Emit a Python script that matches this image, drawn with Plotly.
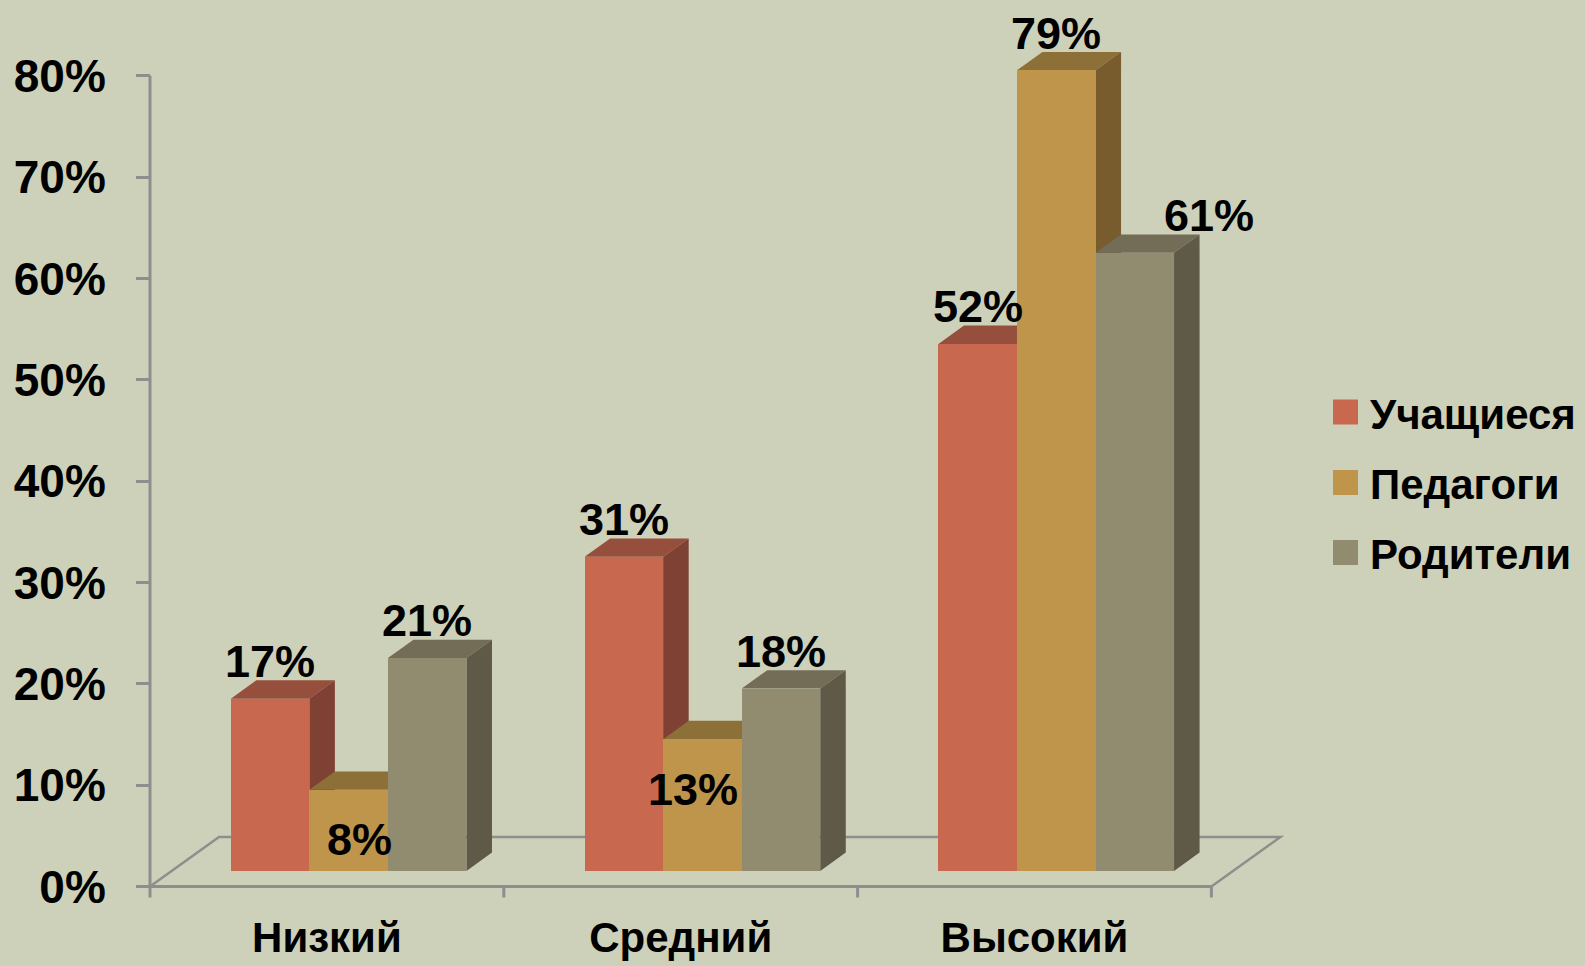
import plotly.graph_objects as go

# ---------------- data ----------------
categories = ["Низкий", "Средний", "Высокий"]
series_names = ["Учащиеся", "Педагоги", "Родители"]
students = [17, 31, 52]
teachers = [8, 13, 79]
parents = [21, 18, 61]
y_ticks = [0, 10, 20, 30, 40, 50, 60, 70, 80]

series_values = [students, teachers, parents]

# ---------------- styling ----------------
BG = "#CDD1BA"
front_colors = ["#C8694F", "#BF954B", "#918C6F"]
top_colors = ["#964F3C", "#8D6F38", "#736D58"]
side_colors = ["#7F4133", "#785C2E", "#5F5947"]
AXIS_GRAY = "#8E8E8E"
FONT = "Liberation Sans"

W, H = 1585, 966
M_L, M_R, M_T, M_B = 100, 295, 20, 61
PX_PER_CAT = 353.8            # pixels per category unit
PX_PER_PCT = 10.134           # pixels per percent
ZERO_PX = 886.5               # pixel row of 0 %
plot_w = W - M_L - M_R
plot_h = H - M_T - M_B
x_range = [-0.5 - (150 - M_L) / PX_PER_CAT, -0.5 + (W - M_R - 150) / PX_PER_CAT]
y_range = [(ZERO_PX - (H - M_B)) / PX_PER_PCT, (ZERO_PX - M_T) / PX_PER_PCT]

# pseudo-3D geometry (fractions of the floor depth)
floor_dx = 69.0 / PX_PER_CAT
floor_dy = 49.5 / PX_PER_PCT
lift_frac = 0.315
depth_frac = 0.37
bar_w = 0.222
n_cat = len(categories)

lift_x = lift_frac * floor_dx
lift_y = lift_frac * floor_dy
ddx = depth_frac * floor_dx
ddy = depth_frac * floor_dy

label_nudge_px = {(0, 1): 11, (1, 1): -9, (2, 2): 74}

fig = go.Figure()
shapes = []
line_style = dict(color=AXIS_GRAY, width=3)

# floor
x_lo, x_hi = -0.5, n_cat - 0.5
shapes.append(dict(type="path", layer="below", xref="x", yref="y", line=dict(color=AXIS_GRAY, width=2.5),
                   path=f"M {x_lo} 0 L {x_lo + floor_dx} {floor_dy} L {x_hi + floor_dx} {floor_dy} L {x_hi} 0"))
shapes.append(dict(type="line", layer="below", xref="x", yref="y", x0=x_lo, x1=x_hi, y0=0, y1=0, line=line_style))
# category tick marks
for k in range(n_cat + 1):
    shapes.append(dict(type="line", layer="below", xref="x", yref="y", x0=x_lo + k, x1=x_lo + k,
                       y0=0, y1=-11 / PX_PER_PCT, line=line_style))
# value axis line
shapes.append(dict(type="line", layer="below", xref="x", yref="y", x0=x_lo, x1=x_lo,
                   y0=y_ticks[0], y1=y_ticks[-1], line=line_style))

annotations = []
for j, vals in enumerate(series_values):
    xs = [i + lift_x + (j - 1) * bar_w for i in range(n_cat)]
    for i, v in enumerate(vals):
        xl, xr = xs[i] - bar_w / 2, xs[i] + bar_w / 2
        yb, yt = lift_y, lift_y + v
        shapes.append(dict(type="path", layer="below", xref="x", yref="y", fillcolor=top_colors[j],
                           line=dict(width=0),
                           path=f"M {xl} {yt} L {xl + ddx} {yt + ddy} L {xr + ddx} {yt + ddy} L {xr} {yt} Z"))
        shapes.append(dict(type="path", layer="below", xref="x", yref="y", fillcolor=side_colors[j],
                           line=dict(width=0),
                           path=f"M {xr} {yb} L {xr} {yt} L {xr + ddx} {yt + ddy} L {xr + ddx} {yb + ddy} Z"))
        # data label: inside if lower than both neighbours
        nb = [series_values[k][i] for k in range(len(series_values)) if k != j]
        inside = j == 1 and v < min(nb)
        annotations.append(dict(x=xs[i], y=(v - 3.4) if inside else (v + 5.2), xref="x", yref="y",
                                text=f"{v}%", showarrow=False, xanchor="center", yanchor="middle",
                                xshift=label_nudge_px.get((i, j), 0),
                                font=dict(family=FONT, size=45, color="black", weight="bold")))
    fig.add_trace(go.Bar(x=xs, y=vals, base=lift_y, width=bar_w, name=series_names[j],
                         marker=dict(color=front_colors[j], line=dict(width=0)),
                         showlegend=False, hoverinfo="skip"))

# custom legend
legend_px_x = 1333
legend_px_y = [412.0, 482.5, 552.5]
sq = 25
for j, name in enumerate(series_names):
    cy = legend_px_y[j]
    shapes.append(dict(type="rect", xref="paper", yref="paper",
                       x0=(legend_px_x - M_L) / plot_w, x1=(legend_px_x + sq - M_L) / plot_w,
                       y0=(H - M_B - (cy + sq / 2)) / plot_h, y1=(H - M_B - (cy - sq / 2)) / plot_h,
                       fillcolor=front_colors[j], line=dict(width=0)))
    annotations.append(dict(x=(legend_px_x + sq + 10 - M_L) / plot_w, y=(H - M_B - cy) / plot_h,
                            xref="paper", yref="paper", text=name, showarrow=False,
                            xanchor="left", yanchor="middle", yshift=-2,
                            font=dict(family=FONT, size=42, color="black", weight="bold")))

fig.update_layout(
    width=W, height=H, autosize=False,
    margin=dict(l=M_L, r=M_R, t=M_T, b=M_B, autoexpand=False),
    paper_bgcolor=BG, plot_bgcolor=BG,
    barmode="overlay", bargap=0,
    showlegend=False,
    shapes=shapes, annotations=annotations,
    xaxis=dict(range=x_range, showgrid=False, zeroline=False, showline=False, ticks="",
               tickmode="array", tickvals=list(range(n_cat)), ticktext=categories,
               tickfont=dict(family=FONT, size=42, color="black", weight="bold"),
               ticklabelstandoff=4, fixedrange=True, automargin=False),
    yaxis=dict(range=y_range, anchor="free", position=(150 - M_L) / plot_w,
               showgrid=False, zeroline=False, showline=False,
               ticks="outside", ticklen=14, tickwidth=3, tickcolor=AXIS_GRAY,
               tickmode="array", tickvals=y_ticks, ticktext=[f"{t}%" for t in y_ticks],
               tickfont=dict(family=FONT, size=46, color="black", weight="bold"),
               ticklabelstandoff=21, fixedrange=True, automargin=False),
)

fig.write_html("out.html", config={"displayModeBar": False},
               post_script="document.body.style.margin='0';document.body.style.overflow='hidden';")
